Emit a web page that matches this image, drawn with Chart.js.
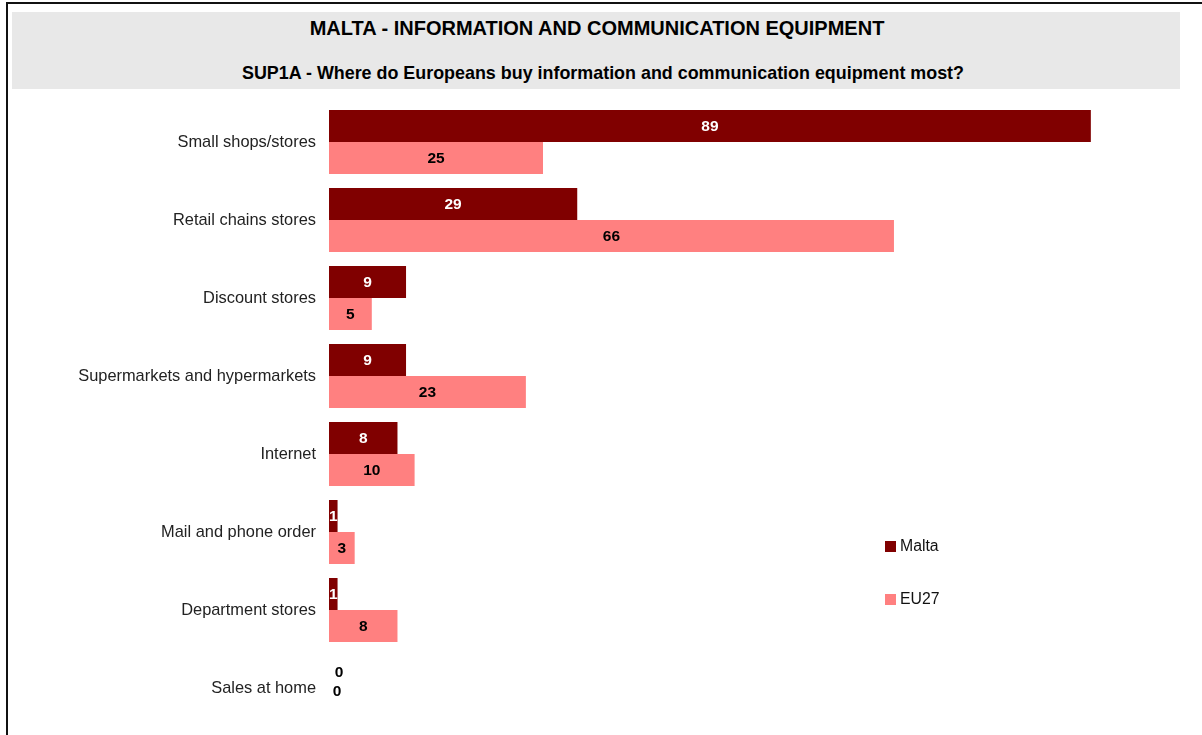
<!DOCTYPE html>
<html>
<head>
<meta charset="utf-8">
<script src="https://cdn.jsdelivr.net/npm/chart.js@4.4.0/dist/chart.umd.min.js"></script>
<style>
  html, body { margin:0; padding:0; background:#fff; overflow:hidden; }
  #wrap { position:relative; width:1202px; height:735px; font-family:"Liberation Sans", Arial, sans-serif; }
  #frame { position:absolute; left:6px; top:2px; width:1300px; height:800px; border:2px solid #111; box-sizing:border-box; }
  #band { position:absolute; left:12px; top:12px; width:1168px; height:77px; background:#e8e8e8; }
  #t1 { position:absolute; left:0; width:100%; top:17px; text-align:center; font-weight:bold; font-size:20px; line-height:23px; color:#000; padding-right:8px; box-sizing:border-box; }
  #t2 { position:absolute; left:0; width:100%; top:63px; text-align:center; font-weight:bold; font-size:17.9px; line-height:21px; color:#000; padding-left:4px; box-sizing:border-box; }
  canvas { position:absolute; left:0; top:0; }
  .lg { position:absolute; left:885px; font-size:15.8px; color:#111; line-height:18px; }
  .lg span.sw { display:inline-block; width:11px; height:11px; margin-right:4px; vertical-align:-1px; }
</style>
</head>
<body>
<div id="wrap">
  <div id="frame"></div>
  <div id="band"></div>
  <div id="t1">MALTA - INFORMATION AND COMMUNICATION EQUIPMENT</div>
  <div id="t2">SUP1A - Where do Europeans buy information and communication equipment most?</div>
  <canvas id="c" width="1202" height="735"></canvas>
</div>
<script>
const categories = ["Small shops/stores","Retail chains stores","Discount stores","Supermarkets and hypermarkets","Internet","Mail and phone order","Department stores","Sales at home"];
const seriesNames = ["Malta","EU27"];
const maltaValues = [89,29,9,9,8,1,1,0];
const eu27Values = [25,66,5,23,10,3,8,0];
const seriesColors = ["#800000","#ff8080"];
const labelColors = ["#ffffff","#000000"];

const legendTops = [537, 590];
seriesNames.forEach((n,i)=>{
  const d = document.createElement('div');
  d.className='lg'; d.style.top = legendTops[i]+'px';
  d.innerHTML = '<span class="sw" style="background:'+seriesColors[i]+'"></span>'+n;
  document.getElementById('wrap').appendChild(d);
});

const valueLabels = {
  id:'valueLabels',
  afterDatasetsDraw(chart){
    const ctx = chart.ctx;
    ctx.save();
    ctx.font = 'bold 15.5px "Liberation Sans", Arial, sans-serif';
    ctx.textAlign='center'; ctx.textBaseline='middle';
    chart.data.datasets.forEach((ds,di)=>{
      const meta = chart.getDatasetMeta(di);
      meta.data.forEach((bar,i)=>{
        const v = ds.data[i];
        let x, y = bar.y;
        if (v === 0) {
          ctx.fillStyle = '#000';
          x = bar.base + (di===0 ? 10 : 8);
          y = di===0 ? bar.y : bar.y - 13;
        } else {
          ctx.fillStyle = labelColors[di];
          x = (bar.x + bar.base)/2;
        }
        ctx.fillText(String(v), x, y+1);
      });
    });
    ctx.restore();
  }
};

new Chart(document.getElementById('c'), {
  type:'bar',
  data:{
    labels:categories,
    datasets:[
      {label:seriesNames[0], data:maltaValues, backgroundColor:seriesColors[0]},
      {label:seriesNames[1], data:eu27Values, backgroundColor:seriesColors[1]}
    ]
  },
  options:{
    indexAxis:'y',
    responsive:false,
    animation:false,
    layout:{autoPadding:false, padding:{left:0,right:17,top:103,bottom:8}},
    datasets:{bar:{barPercentage:1, categoryPercentage:64/78, borderWidth:0}},
    plugins:{legend:{display:false}, tooltip:{enabled:false}},
    scales:{
      x:{display:false, min:0, max:100},
      y:{
        grid:{display:false, drawTicks:false},
        border:{display:false},
        ticks:{padding:13, color:'#222', font:{family:'"Liberation Sans", Arial, sans-serif', size:16.4}},
        afterFit(s){ s.width = 329; s.paddingTop = 0; s.paddingBottom = 0; }
      }
    }
  },
  plugins:[valueLabels]
});
</script>
</body>
</html>
